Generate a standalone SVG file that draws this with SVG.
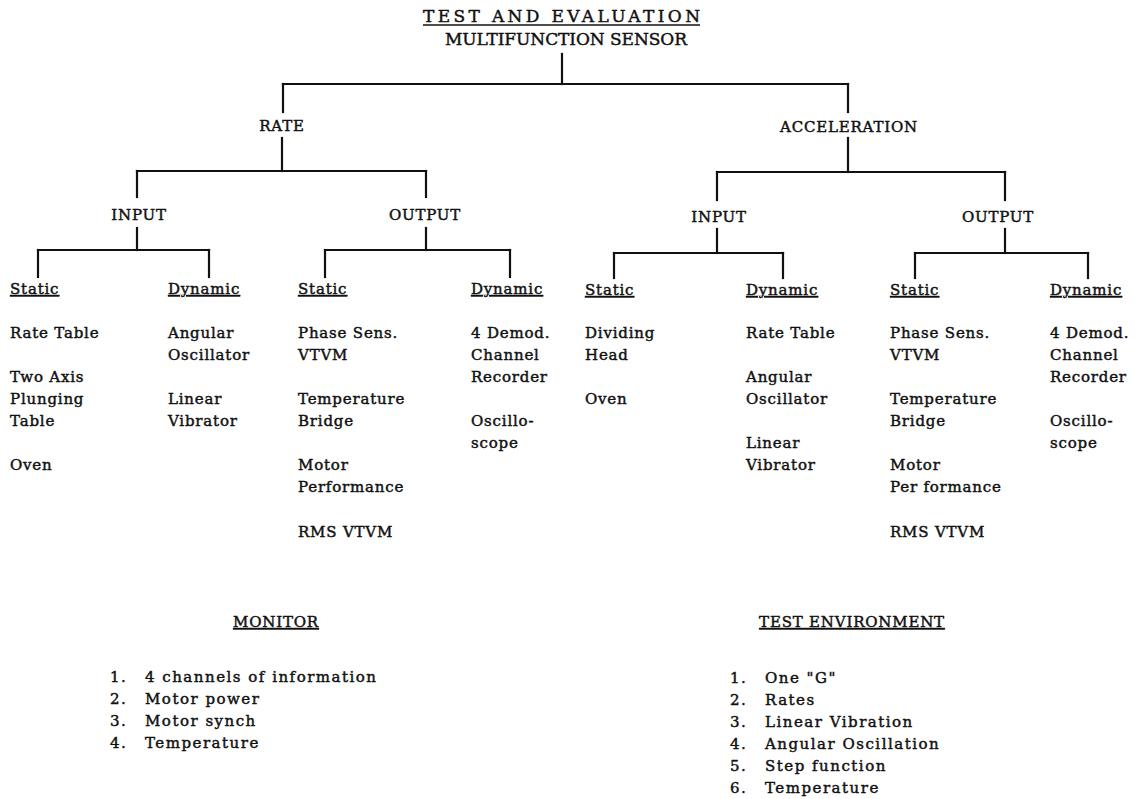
<svg xmlns="http://www.w3.org/2000/svg" width="1141" height="799" viewBox="0 0 1141 799">
<style>
text{font-family:"DejaVu Serif","Liberation Serif",serif;fill:#111;stroke:#111;stroke-width:0.45}
.t{font-size:15px;letter-spacing:0.8px}
.h{font-size:15px;letter-spacing:0.8px;text-anchor:middle}
.u{font-size:15px;letter-spacing:0.8px;text-decoration:underline}
.l{font-size:15px;letter-spacing:1.5px}
.ti{font-size:17px}
.c line{stroke:#111;stroke-width:2.2;stroke-linecap:square}
.ul{stroke:#111;stroke-width:1.6}
</style>
<rect width="1141" height="799" fill="#fff"/>
<g id="title">
<text class="ti" x="423" y="22" textLength="277" lengthAdjust="spacing">TEST AND EVALUATION</text>
<line class="ul" x1="423" y1="25" x2="700" y2="25"/>
<text class="ti" x="445" y="45" textLength="242" lengthAdjust="spacing">MULTIFUNCTION SENSOR</text>
</g>
<g class="c" id="connectors">
<line x1="562" y1="54" x2="562" y2="84"/>
<line x1="283" y1="84" x2="848" y2="84"/>
<line x1="283" y1="84" x2="283" y2="112"/>
<line x1="848" y1="84" x2="848" y2="112"/>
<line x1="282" y1="138" x2="282" y2="171"/>
<line x1="137" y1="171" x2="426" y2="171"/>
<line x1="137" y1="171" x2="137" y2="197"/>
<line x1="426" y1="171" x2="426" y2="197"/>
<line x1="137" y1="228" x2="137" y2="250"/>
<line x1="38" y1="250" x2="209" y2="250"/>
<line x1="38" y1="250" x2="38" y2="277"/>
<line x1="209" y1="250" x2="209" y2="277"/>
<line x1="426" y1="228" x2="426" y2="250"/>
<line x1="325" y1="250" x2="510" y2="250"/>
<line x1="325" y1="250" x2="325" y2="277"/>
<line x1="510" y1="250" x2="510" y2="277"/>
<line x1="848" y1="138" x2="848" y2="172"/>
<line x1="717" y1="172" x2="1005" y2="172"/>
<line x1="717" y1="172" x2="717" y2="200"/>
<line x1="1005" y1="172" x2="1005" y2="200"/>
<line x1="717" y1="229" x2="717" y2="253"/>
<line x1="614" y1="253" x2="783" y2="253"/>
<line x1="614" y1="253" x2="614" y2="278"/>
<line x1="783" y1="253" x2="783" y2="278"/>
<line x1="1005" y1="229" x2="1005" y2="253"/>
<line x1="915" y1="253" x2="1088" y2="253"/>
<line x1="915" y1="253" x2="915" y2="278"/>
<line x1="1088" y1="253" x2="1088" y2="278"/>
</g>
<g id="rate"><text class="h" x="282" y="131">RATE</text></g>
<g id="acceleration"><text class="h" x="849" y="132">ACCELERATION</text></g>
<g id="rate-input"><text class="h" x="139" y="220">INPUT</text></g>
<g id="rate-output"><text class="h" x="425" y="220">OUTPUT</text></g>
<g id="acc-input"><text class="h" x="719" y="222">INPUT</text></g>
<g id="acc-output"><text class="h" x="998" y="222">OUTPUT</text></g>
<g id="rate-input-static">
<text class="u" x="10" y="294">Static</text>
<text class="t" x="10" y="338">Rate Table</text>
<text class="t" x="10" y="382">Two Axis</text>
<text class="t" x="10" y="404">Plunging</text>
<text class="t" x="10" y="426">Table</text>
<text class="t" x="10" y="470">Oven</text>
</g>
<g id="rate-input-dynamic">
<text class="u" x="168" y="294">Dynamic</text>
<text class="t" x="168" y="338">Angular</text>
<text class="t" x="168" y="360">Oscillator</text>
<text class="t" x="168" y="404">Linear</text>
<text class="t" x="168" y="426">Vibrator</text>
</g>
<g id="rate-output-static">
<text class="u" x="298" y="294">Static</text>
<text class="t" x="298" y="338">Phase Sens.</text>
<text class="t" x="298" y="360">VTVM</text>
<text class="t" x="298" y="404">Temperature</text>
<text class="t" x="298" y="426">Bridge</text>
<text class="t" x="298" y="470">Motor</text>
<text class="t" x="298" y="492">Performance</text>
<text class="t" x="298" y="537">RMS VTVM</text>
</g>
<g id="rate-output-dynamic">
<text class="u" x="471" y="294">Dynamic</text>
<text class="t" x="471" y="338">4 Demod.</text>
<text class="t" x="471" y="360">Channel</text>
<text class="t" x="471" y="382">Recorder</text>
<text class="t" x="471" y="426">Oscillo-</text>
<text class="t" x="471" y="448">scope</text>
</g>
<g id="acc-input-static">
<text class="u" x="585" y="295">Static</text>
<text class="t" x="585" y="338">Dividing</text>
<text class="t" x="585" y="360">Head</text>
<text class="t" x="585" y="404">Oven</text>
</g>
<g id="acc-input-dynamic">
<text class="u" x="746" y="295">Dynamic</text>
<text class="t" x="746" y="338">Rate Table</text>
<text class="t" x="746" y="382">Angular</text>
<text class="t" x="746" y="404">Oscillator</text>
<text class="t" x="746" y="448">Linear</text>
<text class="t" x="746" y="470">Vibrator</text>
</g>
<g id="acc-output-static">
<text class="u" x="890" y="295">Static</text>
<text class="t" x="890" y="338">Phase Sens.</text>
<text class="t" x="890" y="360">VTVM</text>
<text class="t" x="890" y="404">Temperature</text>
<text class="t" x="890" y="426">Bridge</text>
<text class="t" x="890" y="470">Motor</text>
<text class="t" x="890" y="492">Per formance</text>
<text class="t" x="890" y="537">RMS VTVM</text>
</g>
<g id="acc-output-dynamic">
<text class="u" x="1050" y="295">Dynamic</text>
<text class="t" x="1050" y="338">4 Demod.</text>
<text class="t" x="1050" y="360">Channel</text>
<text class="t" x="1050" y="382">Recorder</text>
<text class="t" x="1050" y="426">Oscillo-</text>
<text class="t" x="1050" y="448">scope</text>
</g>
<g id="monitor">
<text class="u" x="276" y="627" text-anchor="middle">MONITOR</text>
<text class="l" x="110" y="682">1.</text><text class="l" x="145" y="682">4 channels of information</text>
<text class="l" x="110" y="704">2.</text><text class="l" x="145" y="704">Motor power</text>
<text class="l" x="110" y="726">3.</text><text class="l" x="145" y="726">Motor synch</text>
<text class="l" x="110" y="748">4.</text><text class="l" x="145" y="748">Temperature</text>
</g>
<g id="test-environment">
<text class="u" x="852" y="627" text-anchor="middle">TEST ENVIRONMENT</text>
<text class="l" x="730" y="683">1.</text><text class="l" x="765" y="683">One "G"</text>
<text class="l" x="730" y="705">2.</text><text class="l" x="765" y="705">Rates</text>
<text class="l" x="730" y="727">3.</text><text class="l" x="765" y="727">Linear Vibration</text>
<text class="l" x="730" y="749">4.</text><text class="l" x="765" y="749">Angular Oscillation</text>
<text class="l" x="730" y="771">5.</text><text class="l" x="765" y="771">Step function</text>
<text class="l" x="730" y="793">6.</text><text class="l" x="765" y="793">Temperature</text>
</g>
</svg>
